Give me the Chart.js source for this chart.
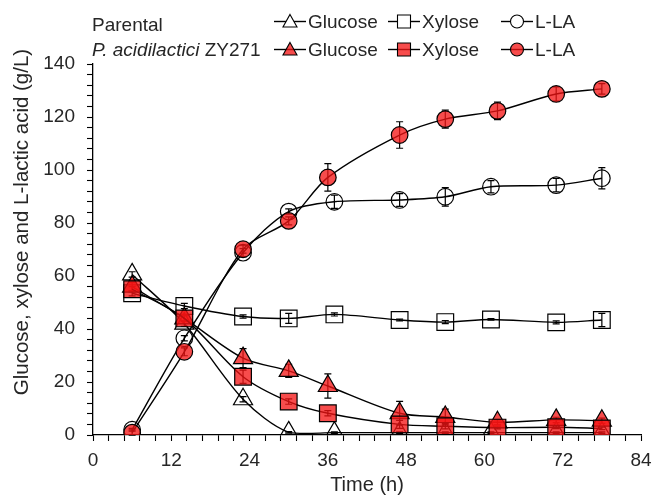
<!DOCTYPE html>
<html>
<head>
<meta charset="utf-8">
<script src="https://cdn.jsdelivr.net/npm/chart.js@4.4.1/dist/chart.umd.min.js"></script>
<style>
html,body{margin:0;padding:0;background:#fff;}
#wrap{width:654px;height:496px;position:relative;}
</style>
</head>
<body>
<div id="wrap"><canvas id="c" width="654" height="496"></canvas></div>
<script>
// ---- Data ----
const parentalTime = [6, 14, 23, 30, 37, 47, 54, 61, 71, 78];
const parentalGlucose = [60.6, 42, 13.5, 1.0, 0.9, 0.9, 0.9, 0.9, 0.9, 0.9];
const parentalGlucoseErr = [1, 1, 1, 0.3, 0.3, 0.3, 0.3, 0.3, 0.3, 0.3];
const parentalXylose = [53.5, 48.7, 44.7, 44.0, 45.5, 43.4, 42.6, 43.6, 42.5, 43.4];
const parentalXyloseErr = [1, 1, 0.6, 1.9, 0.6, 0.3, 0.6, 0.3, 0.6, 2.5];
const parentalLLA = [2.0, 36.5, 68.8, 84.3, 88.0, 88.7, 89.9, 93.7, 94.3, 96.9];
const parentalLLAErr = [0.5, 1, 1.5, 1, 2.5, 2.4, 3.5, 2.3, 2.5, 4];

const zyTime = [6, 14, 23, 30, 36, 47, 54, 62, 71, 78];
const zyGlucose = [56, 44, 29, 24.2, 18.5, 8.2, 6.8, 4.8, 5.7, 5.4];
const zyGlucoseErr = [1.5, 1, 3.6, 2.5, 4.6, 4.5, 3, 1, 1, 1];
const zyXylose = [55, 44, 22, 12.6, 8.2, 4.0, 3.3, 2.8, 2.9, 2.5];
const zyXyloseErr = [1, 1, 2.5, 1, 1, 1.5, 1, 0.5, 0.5, 0.5];
const zyLLA = [0.9, 31.4, 70.1, 80.8, 97.2, 113.2, 119.2, 122.3, 128.7, 130.6];
const zyLLAErr = [1, 1.5, 1.5, 1.5, 5.2, 5, 3.4, 3.3, 2.7, 2];

const seriesNames = ['Glucose', 'Xylose', 'L-LA'];
const groupNames = ['Parental', 'P. acidilactici', ' ZY271'];
const xTitle = 'Time (h)';
const yTitle = 'Glucose, xylose and L-lactic acid (g/L)';

// ---- Styles ----
const FONT = '"Liberation Sans", Arial, Helvetica, sans-serif';
const TXT = '#262626';
const RED = 'rgba(245, 20, 20, 0.76)';

function pts(t, v) { return t.map((x, i) => ({x: x, y: v[i]})); }

function ds(label, t, v, err, style, radius, fill) {
  return {
    label: label,
    data: pts(t, v),
    errors: err,
    showLine: true,
    borderColor: '#000',
    borderWidth: 1.4,
    tension: 0.3,
    pointStyle: style,
    pointRadius: radius,
    pointHoverRadius: radius,
    pointBackgroundColor: fill,
    pointBorderColor: '#000',
    pointBorderWidth: 1.2,
    fill: false
  };
}

const datasets = [
  ds('ZY271 L-LA', zyTime, zyLLA, zyLLAErr, 'circle', 8.3, RED),
  ds('ZY271 Xylose', zyTime, zyXylose, zyXyloseErr, 'rect', 11.8, RED),
  ds('ZY271 Glucose', zyTime, zyGlucose, zyGlucoseErr, 'triangle', 11, RED),
  ds('Parental L-LA', parentalTime, parentalLLA, parentalLLAErr, 'circle', 8.3, 'rgba(0,0,0,0)'),
  ds('Parental Xylose', parentalTime, parentalXylose, parentalXyloseErr, 'rect', 11.8, 'rgba(0,0,0,0)'),
  ds('Parental Glucose', parentalTime, parentalGlucose, parentalGlucoseErr, 'triangle', 11, 'rgba(0,0,0,0)')
];

const errorBars = {
  id: 'errorBars',
  beforeDatasetsDraw(chart) {
    const ctx = chart.ctx, xs = chart.scales.x, ys = chart.scales.y;
    ctx.save();
    ctx.strokeStyle = '#000';
    ctx.lineWidth = 1.2;
    chart.data.datasets.forEach(d => {
      d.data.forEach((p, i) => {
        const e = d.errors[i];
        const x = xs.getPixelForValue(p.x);
        const y1 = ys.getPixelForValue(p.y - e);
        const y2 = ys.getPixelForValue(p.y + e);
        const cw = 3.5;
        ctx.beginPath();
        ctx.moveTo(x, y1); ctx.lineTo(x, y2);
        ctx.moveTo(x - cw, y1); ctx.lineTo(x + cw, y1);
        ctx.moveTo(x - cw, y2); ctx.lineTo(x + cw, y2);
        ctx.stroke();
      });
    });
    ctx.restore();
  }
};

function legendMarker(ctx, style, x, y, fill) {
  ctx.save();
  ctx.strokeStyle = '#000';
  ctx.lineWidth = 1.4;
  ctx.beginPath();
  ctx.moveTo(x - 16, y); ctx.lineTo(x + 16, y);
  ctx.stroke();
  ctx.lineWidth = 1.1;
  ctx.fillStyle = fill;
  ctx.beginPath();
  if (style === 'triangle') {
    ctx.moveTo(x, y - 7); ctx.lineTo(x + 7, y + 5.5); ctx.lineTo(x - 7, y + 5.5); ctx.closePath();
  } else if (style === 'rect') {
    ctx.rect(x - 6.5, y - 6.5, 13, 13);
  } else {
    ctx.arc(x, y, 6.5, 0, Math.PI * 2);
  }
  ctx.fill();
  ctx.stroke();
  ctx.restore();
}

const decorations = {
  id: 'decorations',
  afterDraw(chart) {
    const ctx = chart.ctx;
    const a = chart.chartArea;
    ctx.save();
    ctx.fillStyle = TXT;
    ctx.textBaseline = 'alphabetic';
    ctx.textAlign = 'left';
    // Group labels
    ctx.font = '19px ' + FONT;
    ctx.fillText(groupNames[0], 92, 31);
    ctx.font = 'italic 19px ' + FONT;
    ctx.fillText(groupNames[1], 92, 56);
    const w = ctx.measureText(groupNames[1]).width;
    ctx.font = '19px ' + FONT;
    ctx.fillText(groupNames[2], 92 + w, 56);
    // Legend entries
    const mx = [290, 404, 517];
    const tx = [308, 422, 535];
    const styles = ['triangle', 'rect', 'circle'];
    const rows = [{y: 21.5, base: 28, fill: '#fff'}, {y: 49.5, base: 56, fill: RED}];
    rows.forEach(r => {
      for (let i = 0; i < 3; i++) {
        legendMarker(ctx, styles[i], mx[i], r.y, r.fill);
        ctx.fillStyle = TXT;
        ctx.font = '19px ' + FONT;
        ctx.fillText(seriesNames[i], tx[i], r.base);
      }
    });
    // Axis titles
    ctx.font = '20px ' + FONT;
    ctx.textAlign = 'center';
    ctx.textBaseline = 'middle';
    ctx.fillText(xTitle, (a.left + a.right) / 2, 485);
    ctx.font = '20.5px ' + FONT;
    ctx.translate(22, 222);
    ctx.rotate(-Math.PI / 2);
    ctx.fillText(yTitle, 0, 0);
    ctx.restore();
  }
};

new Chart(document.getElementById('c'), {
  type: 'line',
  data: { datasets: datasets },
  options: {
    responsive: false,
    devicePixelRatio: 1,
    animation: false,
    layout: { padding: { top: 64, right: 13, bottom: 0, left: 0 } },
    plugins: { legend: { display: false }, tooltip: { enabled: false } },
    scales: {
      x: {
        type: 'linear', min: 0, max: 84,
        afterFit(s) { s.height = 61; s.paddingRight = 0; s.paddingLeft = 0; },
        ticks: {
          stepSize: 2.4, autoSkip: false, maxRotation: 0, padding: 8,
          color: TXT, font: { family: FONT, size: 19 },
          callback(v) { const r = v / 12; return Math.abs(r - Math.round(r)) < 1e-6 ? String(Math.round(v)) : ''; }
        },
        grid: { drawOnChartArea: false, tickLength: 6, color: '#000', tickWidth: 1.1 },
        border: { color: '#000', width: 1.3 }
      },
      y: {
        min: 0, max: 140,
        afterFit(s) { s.width = 93; s.paddingTop = 0; s.paddingBottom = 0; },
        ticks: {
          stepSize: 4, autoSkip: false, padding: 12,
          color: TXT, font: { family: FONT, size: 19 },
          callback(v) { const r = v / 20; return Math.abs(r - Math.round(r)) < 1e-6 ? String(Math.round(v)) : ''; }
        },
        grid: { drawOnChartArea: false, tickLength: 6, color: '#000', tickWidth: 1.1 },
        border: { color: '#000', width: 1.3 }
      }
    }
  },
  plugins: [errorBars, decorations]
});
</script>
</body>
</html>
